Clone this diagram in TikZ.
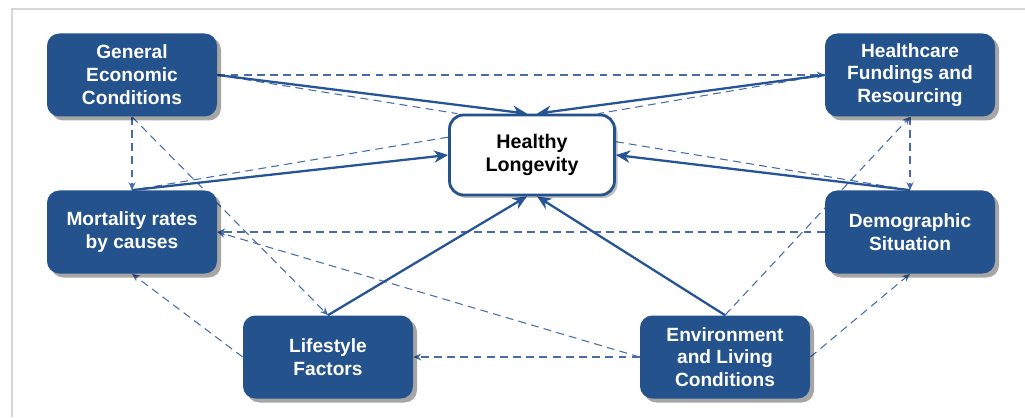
\documentclass[tikz,border=0pt]{standalone}
\usepackage{fontspec}
\setmainfont{Liberation Sans}
\usetikzlibrary{arrows.meta,shadows,backgrounds}
\definecolor{boxblue}{RGB}{35,82,140}
\definecolor{linkblue}{RGB}{38,84,150}
\definecolor{dashblue}{RGB}{70,108,170}
\definecolor{framegray}{RGB}{215,215,215}
\begin{document}
\begin{tikzpicture}[
  factor/.style={fill=boxblue, rounded corners=7pt, minimum width=3.4cm, minimum height=1.66cm,
    align=center, text=white, font=\bfseries\fontsize{10.9}{13}\selectfont,
    drop shadow={shadow xshift=0.08cm, shadow yshift=-0.08cm, fill=black, opacity=0.35}},
  goal/.style={draw=boxblue, line width=1.6pt, fill=white, rounded corners=8pt, minimum width=3.3cm,
    minimum height=1.6cm, align=center, font=\bfseries\fontsize{11.2}{13}\selectfont,
    drop shadow={shadow xshift=0.06cm, shadow yshift=-0.06cm, fill=black, opacity=0.25}},
  effect/.style={-{Stealth[length=8pt,width=7pt]}, line width=1.3pt, draw=linkblue},
  link/.style={-{Stealth[length=4.5pt,width=4pt]}, line width=0.6pt, draw=dashblue, dash pattern=on 4.5pt off 3pt},
  plainlink/.style={link, -}
]
\useasboundingbox (0,0) rectangle (20.5,8.34);

% Factors
\node[goal] (hl) at (10.64,5.24) {Healthy\\Longevity};
\node[factor] (gec) at (2.64,6.84) {General\\Economic\\Conditions};
\node[factor] (hfr) at (18.2,6.84) {Healthcare\\Fundings and\\Resourcing};
\node[factor] (mrc) at (2.64,3.70) {Mortality rates\\by causes};
\node[factor] (ds) at (18.2,3.70) {Demographic\\Situation};
\node[factor] (lf) at (6.56,1.20) {Lifestyle\\Factors};
\node[factor] (elc) at (14.5,1.20) {Environment\\and Living\\Conditions};

\begin{pgfonlayer}{background}
% Frame
\draw[framegray, line width=1.1pt] (0.24,0) -- (0.24,8.16) -- (20.5,8.16);

% Dashed links
\draw[link] (gec.east) -- (hfr.west);
\draw[plainlink] (gec.east) -- (hl.151);
\draw[plainlink] (hfr.west) -- (hl.32);
\draw[link] (gec.south) -- (mrc.north);
\draw[link] (gec.south) -- (lf.north);
\draw[plainlink] (hl.168) -- (mrc.north);
\draw[plainlink] (hl.9) -- (ds.north);
\draw[link] (hfr.south) -- (ds.north);
\draw[link] (elc.north) -- (hfr.south);
\draw[link] (ds.west) -- (mrc.east);
\draw[link] (elc.west) -- (mrc.east);
\draw[link] (elc.west) -- (lf.east);
\draw[link] (elc.east) -- (ds.south);
\draw[link] (lf.west) -- (mrc.south);

% Direct effects on healthy longevity
\draw[effect] (gec.east) -- (hl.97);
\draw[effect] (hfr.west) -- (hl.83);
\draw[effect] (mrc.north) -- (hl.west);
\draw[effect] (ds.north) -- (hl.east);
\draw[effect] (lf.north) -- (hl.263);
\draw[effect] (elc.north) -- (hl.277);
\end{pgfonlayer}
\end{tikzpicture}
\end{document}
